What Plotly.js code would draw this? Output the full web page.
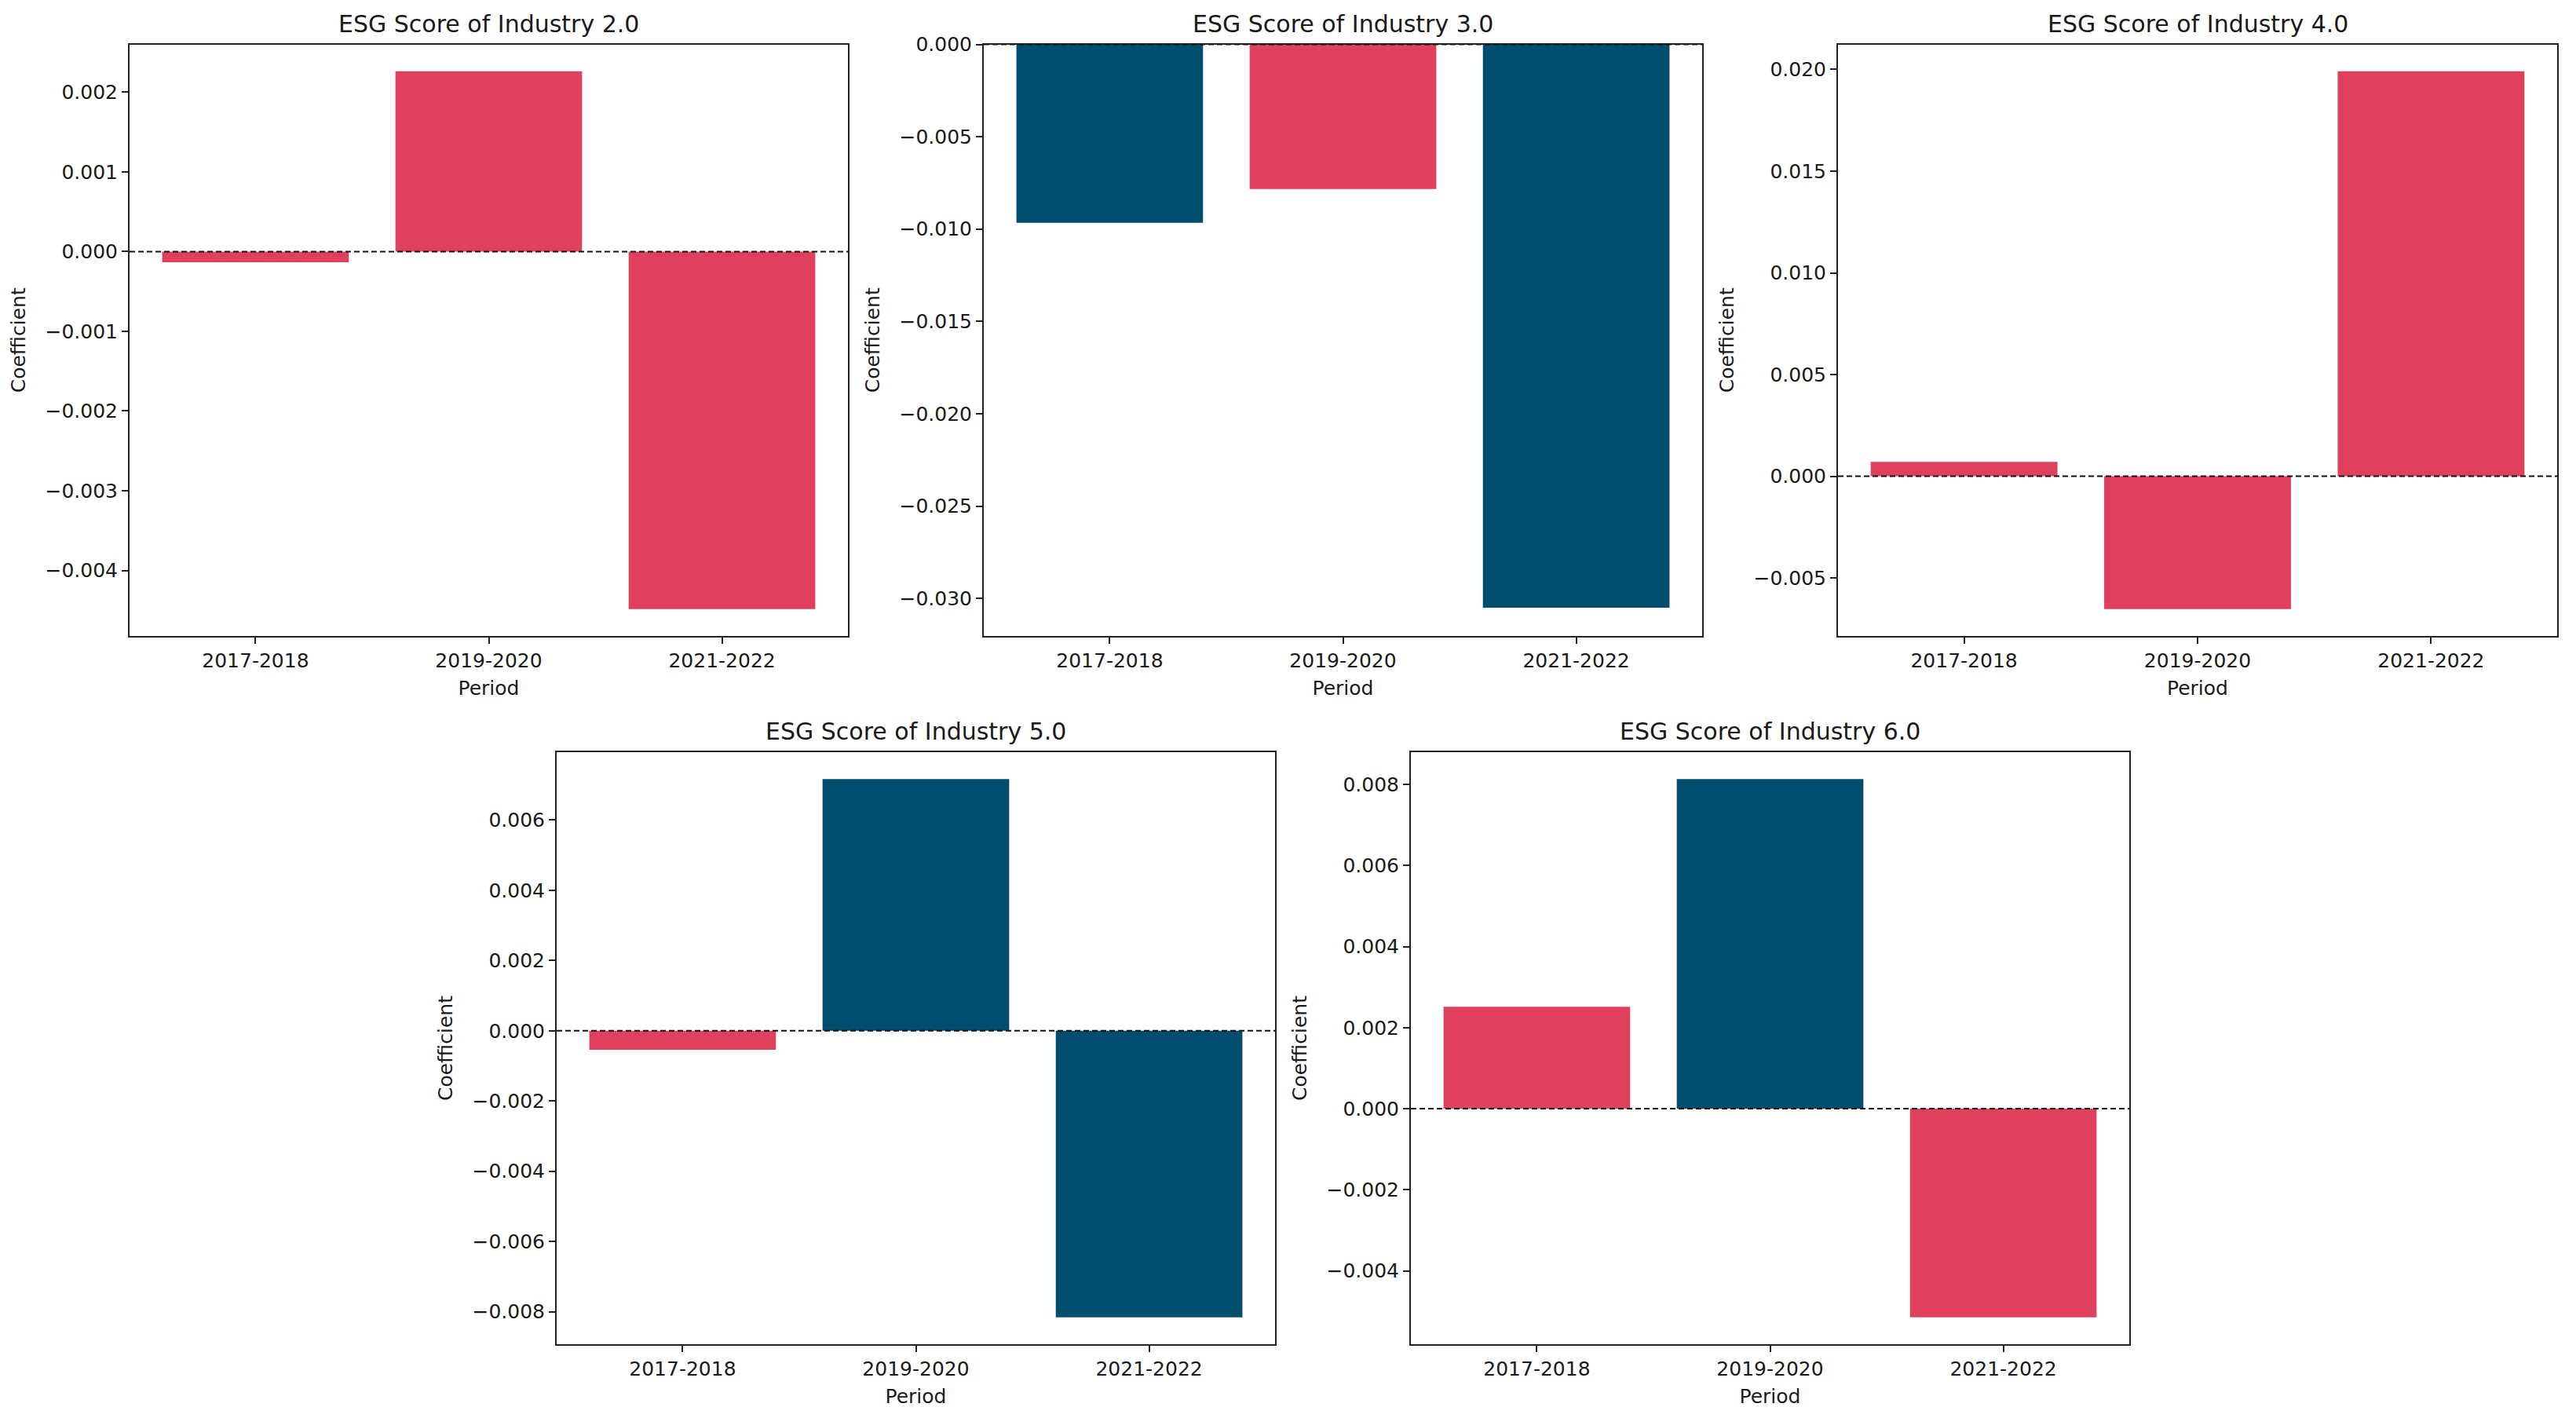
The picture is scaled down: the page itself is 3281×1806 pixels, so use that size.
<!DOCTYPE html>
<html>
<head>
<meta charset="utf-8">
<script src="https://cdn.plot.ly/plotly-3.0.1.min.js"></script>
<style>html,body{margin:0;padding:0;background:#fff;}#chart{width:3281px;height:1806px;}</style>
</head>
<body>
<div id="chart"></div>
<script>
// ---- data ----
const periods = ['2017-2018', '2019-2020', '2021-2022'];
const industryNames = ['2.0', '3.0', '4.0', '5.0', '6.0'];

const industry2 = [-0.000135, 0.002262, -0.004485];
const industry3 = [-0.00966, -0.00783, -0.03051];
const industry4 = [0.00071, -0.00653, 0.01991];
const industry5 = [-0.000542, 0.007166, -0.00816];
const industry6 = [0.002517, 0.008132, -0.005145];

const RED = '#df405d';
const NAVY = '#014d6d';
const colors2 = [RED, RED, RED];
const colors3 = [NAVY, RED, NAVY];
const colors4 = [RED, RED, RED];
const colors5 = [RED, NAVY, NAVY];
const colors6 = [RED, NAVY, RED];

const ticks2 = [-0.004, -0.003, -0.002, -0.001, 0, 0.001, 0.002];
const ticks3 = [-0.030, -0.025, -0.020, -0.015, -0.010, -0.005, 0];
const ticks4 = [-0.005, 0, 0.005, 0.010, 0.015, 0.020];
const ticks5 = [-0.008, -0.006, -0.004, -0.002, 0, 0.002, 0.004, 0.006];
const ticks6 = [-0.004, -0.002, 0, 0.002, 0.004, 0.006, 0.008];

const series = [industry2, industry3, industry4, industry5, industry6];
const colorSets = [colors2, colors3, colors4, colors5, colors6];
const tickSets = [ticks2, ticks3, ticks4, ticks5, ticks6];

// ---- layout geometry ----
const W = 3281, H = 1806;
const xDomains = [
  [165 / W, 1080 / W],
  [1253 / W, 2168 / W],
  [2341 / W, 3257 / W],
  [709 / W, 1624 / W],
  [1797 / W, 2712 / W]
];
const yDomains = [
  [1 - 810 / H, 1 - 56.5 / H],
  [1 - 810 / H, 1 - 56.5 / H],
  [1 - 810 / H, 1 - 56.5 / H],
  [1 - 1712 / H, 1 - 958 / H],
  [1 - 1712 / H, 1 - 958 / H]
];

const FONT = 'DejaVu Sans';
const TXT = '#1a1a1a';

function fmt(v) {
  const s = Math.abs(v) < 1e-12 ? '0.000' : v.toFixed(3);
  return s.replace('-', '\u2212');
}

function yRange(vals) {
  const lo = Math.min(0, ...vals), hi = Math.max(0, ...vals);
  const span = hi - lo, m = 0.05 * span;
  return [lo < 0 ? lo - m : lo, hi > 0 ? hi + m : hi];
}

const traces = [];
const layout = {
  width: W, height: H,
  margin: {l: 0, r: 0, t: 0, b: 0},
  paper_bgcolor: '#fff', plot_bgcolor: '#fff',
  showlegend: false,
  bargap: 0.2,
  font: {family: FONT, size: 25, color: TXT},
  annotations: [],
  shapes: []
};

series.forEach((vals, i) => {
  const n = i + 1;
  const xa = n === 1 ? 'x' : 'x' + n;
  const ya = n === 1 ? 'y' : 'y' + n;
  traces.push({
    type: 'bar',
    x: periods,
    y: vals,
    xaxis: xa, yaxis: ya,
    marker: {color: colorSets[i], line: {width: 0}},
    hoverinfo: 'x+y'
  });
  const xKey = n === 1 ? 'xaxis' : 'xaxis' + n;
  const yKey = n === 1 ? 'yaxis' : 'yaxis' + n;
  layout[xKey] = {
    domain: xDomains[i], anchor: ya,
    type: 'category',
    range: [-0.54, 2.54],
    showline: true, mirror: true, linecolor: '#222', linewidth: 2,
    ticks: 'outside', ticklen: 8, tickwidth: 2, tickcolor: '#222',
    showgrid: false, zeroline: false,
    tickfont: {family: FONT, size: 25, color: TXT},
    title: {text: 'Period', font: {family: FONT, size: 25, color: TXT}, standoff: 12}
  };
  layout[yKey] = {
    domain: yDomains[i], anchor: xa,
    range: yRange(vals),
    tickmode: 'array',
    tickvals: tickSets[i],
    ticktext: tickSets[i].map(fmt),
    showline: true, mirror: true, linecolor: '#222', linewidth: 2,
    ticks: 'outside', ticklen: 8, tickwidth: 2, tickcolor: '#222',
    showgrid: false, zeroline: false,
    tickfont: {family: FONT, size: 25, color: TXT},
    title: {text: 'Coefficient', font: {family: FONT, size: 25, color: TXT}, standoff: 18}
  };
  layout.annotations.push({
    text: 'ESG Score of Industry ' + industryNames[i],
    xref: xa + ' domain', yref: ya + ' domain',
    x: 0.5, y: 1, xanchor: 'center', yanchor: 'middle', yshift: 26,
    showarrow: false,
    font: {family: FONT, size: 30, color: TXT}
  });
  layout.shapes.push({
    type: 'line', xref: xa + ' domain', yref: ya,
    x0: 0, x1: 1, y0: 0, y1: 0,
    line: {color: '#111', width: 2, dash: '7px,4px'},
    layer: 'above'
  });
});

Plotly.newPlot('chart', traces, layout, {displayModeBar: false, staticPlot: true});
</script>
</body>
</html>
